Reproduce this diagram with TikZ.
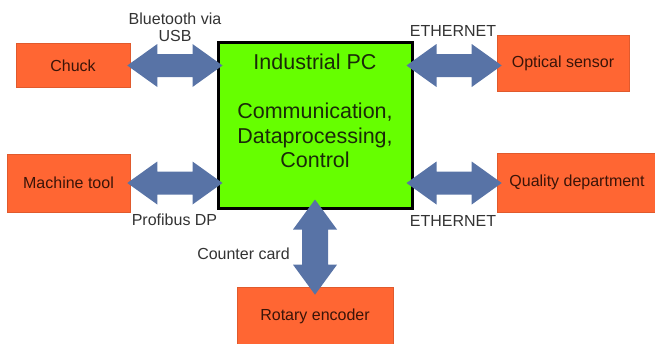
\documentclass[tikz,border=0pt]{standalone}
\usepackage{fontspec}
\setmainfont{Liberation Sans}
\usetikzlibrary{calc}
\definecolor{boxorange}{HTML}{FF6633}
\definecolor{pcgreen}{HTML}{66FF00}
\definecolor{arrowblue}{HTML}{5873A6}
\definecolor{boxtext}{HTML}{3A1408}
\definecolor{pctext}{HTML}{1A2A08}
\definecolor{labeltext}{HTML}{333333}
% horizontal double arrow between two tip points (left, right)
\newcommand\hdarrow[2]{%
  \fill[arrowblue] (#1) -- ++(30,-21.5) -- ++(0,10) -- ($(#2)+(-30,-11.5)$) -- ++(0,-10) -- (#2)
    -- ++(-30,21.5) -- ++(0,-10) -- ($(#1)+(30,11.5)$) -- ++(0,10) -- cycle;}
% vertical double arrow between two tip points (top, bottom)
\newcommand\vdarrow[2]{%
  \fill[arrowblue] (#1) -- ++(22,30) -- ++(-9,0) -- ($(#2)+(13,-30)$) -- ++(9,0) -- (#2)
    -- ++(-22,-30) -- ++(9,0) -- ($(#1)+(-13,30)$) -- ++(-9,0) -- cycle;}
\begin{document}
\begin{tikzpicture}[x=1pt,y=-1pt,
  dev/.style={draw=boxorange!88!black, line width=0.6pt, fill=boxorange, text=boxtext,
    font=\fontsize{16}{18}\selectfont, inner sep=0pt},
  lbl/.style={text=labeltext, font=\fontsize{16}{18}\selectfont, inner sep=0pt, align=center},
  pcbox/.style={draw=black, line width=3pt, fill=pcgreen, inner sep=0pt}]
\useasboundingbox (0,0) rectangle (655,343);

% devices
\node[dev, minimum width=114pt, minimum height=44pt] (chuck) at (73,65.5) {Chuck};
\node[dev, minimum width=132pt, minimum height=56pt] (optical) at (563,63) {Optical sensor};
\node[dev, minimum width=123pt, minimum height=58pt] (machine) at (68.5,183) {Machine tool};
\node[dev, minimum width=165pt, minimum height=59pt] (quality) at (579.5,182.5) {\hspace*{-5pt}Quality department};
\node[dev, minimum width=156pt, minimum height=62pt, text depth=6pt] (rotary) at (315,318) {Rotary encoder};

% industrial PC
\node[pcbox, minimum width=194pt, minimum height=166pt] (pc) at (315,125) {};
\node[text=pctext, font=\fontsize{21.5}{24.5}\selectfont, align=center, inner sep=0pt, anchor=north]
  (pctxt) at (315,54) {Industrial PC\\[24.5pt]Communication,\\Dataprocessing,\\Control};

% connectors
\coordinate (c1) at ($(chuck.east)+(-3,0)$);
\coordinate (c2) at ($(pc.west |- chuck.east)+(6,0)$);
\hdarrow{c1}{c2}
\coordinate (m1) at ($(machine.east)+(-3,0)$);
\coordinate (m2) at ($(pc.west |- machine.east)+(6,0)$);
\hdarrow{m1}{m2}
\coordinate (o1) at ($(pc.east |- chuck.east)+(-7,0)$);
\coordinate (o2) at ($(optical.west |- chuck.east)+(5,0)$);
\hdarrow{o1}{o2}
\coordinate (q1) at ($(pc.east |- machine.east)+(-7,0)$);
\coordinate (q2) at ($(quality.west |- machine.east)+(5,0)$);
\hdarrow{q1}{q2}
\coordinate (r1) at ($(pc.south)+(0,-10)$);
\coordinate (r2) at ($(rotary.north)+(0,8)$);
\vdarrow{r1}{r2}

% labels
\node[lbl] (lbt) at (175,27.5) {Bluetooth via\\[-1pt]USB};
\node[lbl] (leth1) at (453,30.5) {ETHERNET};
\node[lbl] (lprof) at (174.5,220) {Profibus DP};
\node[lbl] (leth2) at (453,221) {ETHERNET};
\node[lbl] (lcount) at (243.5,254) {Counter card};
\end{tikzpicture}
\end{document}
